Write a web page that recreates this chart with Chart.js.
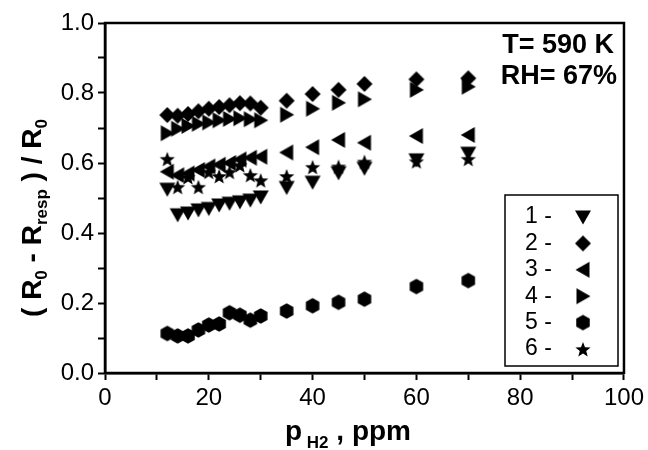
<!DOCTYPE html>
<html>
<head>
<meta charset="utf-8">
<script src="https://cdn.jsdelivr.net/npm/chart.js@4/dist/chart.umd.min.js"></script>
<style>
html,body{margin:0;padding:0;background:#fff;}
#wrap{width:648px;height:450px;position:relative;}
</style>
</head>
<body>
<div id="wrap"><canvas id="c" width="648" height="450"></canvas></div>
<script>
// ---- data ----
const pH2 = [12,14,16,18,20,22,24,26,28,30,35,40,45,50,60,70];
const series1 = [0.525,0.452,0.457,0.466,0.470,0.480,0.485,0.489,0.494,0.503,0.530,0.545,0.572,0.585,0.609,0.628];
const series2 = [0.737,0.735,0.740,0.748,0.755,0.760,0.765,0.771,0.770,0.758,0.778,0.797,0.809,0.826,0.839,0.842];
const series3 = [0.575,0.565,0.570,0.580,0.590,0.595,0.600,0.610,0.615,0.618,0.630,0.645,0.666,0.658,0.677,0.680];
const series4 = [0.685,0.698,0.706,0.712,0.716,0.722,0.726,0.728,0.725,0.722,0.738,0.755,0.772,0.782,0.809,0.818];
const series5 = [0.113,0.106,0.106,0.123,0.137,0.140,0.172,0.165,0.151,0.163,0.177,0.192,0.202,0.211,0.247,0.264];
const series6 = [0.612,0.532,0.560,0.532,0.575,0.563,0.575,0.594,0.566,0.551,0.563,0.589,0.590,0.604,0.605,0.612];
const legendLabels = ['1 -','2 -','3 -','4 -','5 -','6 -'];
const xTicks = [0,20,40,60,80,100];
const yTicks = [0.0,0.2,0.4,0.6,0.8,1.0];
const noteLines = ['T= 590 K','RH= 67%'];

// ---- marker images ----
function marker(kind){
  const s = 20, c = document.createElement('canvas');
  c.width = s; c.height = s;
  const g = c.getContext('2d');
  const cx = s/2, cy = s/2;
  g.fillStyle = '#000';
  g.beginPath();
  if(kind==='down'){ g.moveTo(cx-8,cy-6.5); g.lineTo(cx+8,cy-6.5); g.lineTo(cx,cy+7.5); }
  else if(kind==='diamond'){ g.moveTo(cx,cy-8); g.lineTo(cx+8,cy); g.lineTo(cx,cy+8); g.lineTo(cx-8,cy); }
  else if(kind==='left'){ g.moveTo(cx-7.5,cy); g.lineTo(cx+6.5,cy-8); g.lineTo(cx+6.5,cy+8); }
  else if(kind==='right'){ g.moveTo(cx+7.5,cy); g.lineTo(cx-6.5,cy-8); g.lineTo(cx-6.5,cy+8); }
  else if(kind==='hex'){ for(let i=0;i<6;i++){ const a=Math.PI/6+i*Math.PI/3; const r=7.8; const x=cx+r*Math.cos(a), y=cy+r*Math.sin(a); i?g.lineTo(x,y):g.moveTo(x,y);} }
  else if(kind==='star'){ for(let i=0;i<10;i++){ const a=-Math.PI/2+i*Math.PI/5; const r=i%2?3.4:8; const x=cx+r*Math.cos(a), y=cy+1+r*Math.sin(a); i?g.lineTo(x,y):g.moveTo(x,y);} }
  g.closePath(); g.fill();
  return c;
}
const kinds = ['down','diamond','left','right','hex','star'];
const imgs = kinds.map(marker);
const allSeries = [series1,series2,series3,series4,series5,series6];

const datasets = allSeries.map((ser,i)=>({
  label: legendLabels[i],
  data: pH2.map((x,j)=>({x:x,y:ser[j]})),
  pointStyle: imgs[i],
  pointRadius: 8,
  showLine: false,
  backgroundColor:'#000',
  borderColor:'#000'
}));

const FONT = "'Liberation Sans', Arial, sans-serif";

const decor = {
  id:'decor',
  afterDraw(chart){
    const ctx = chart.ctx, a = chart.chartArea;
    ctx.save();
    // frame
    ctx.strokeStyle='#000'; ctx.lineWidth=2.5;
    ctx.strokeRect(a.left,a.top,a.right-a.left,a.bottom-a.top);
    // note text
    ctx.fillStyle='#000';
    ctx.font = 'bold 27px '+FONT;
    ctx.textAlign='right'; ctx.textBaseline='alphabetic';
    ctx.fillText(noteLines[0], 614, 53);
    ctx.fillText(noteLines[1], 617, 84);
    // legend box
    const bx=505, by=195, bw=113, bh=171;
    ctx.lineWidth=1.5;
    ctx.strokeRect(bx,by,bw,bh);
    ctx.font = '23px '+FONT;
    ctx.textAlign='left'; ctx.textBaseline='middle';
    for(let i=0;i<6;i++){
      const y = 217 + i*26.4;
      ctx.fillText(legendLabels[i], 525, y);
      const im = imgs[i];
      ctx.drawImage(im, 583-im.width/2, y-im.height/2);
    }
    // y title
    ctx.save();
    ctx.translate(32, 218);
    ctx.rotate(-Math.PI/2);
    const big = 'bold 28px '+FONT, small = 'bold 17px '+FONT;
    const parts = [['( R',big,0],['0',small,6],[' - R',big,0],['resp',small,6],[' ) / R',big,0],['0',small,6]];
    let w=0;
    parts.forEach(p=>{ctx.font=p[1]; w+=ctx.measureText(p[0]).width;});
    let x=-w/2;
    ctx.textAlign='left'; ctx.textBaseline='alphabetic';
    parts.forEach(p=>{ctx.font=p[1]; ctx.fillText(p[0],x,p[2]+9); x+=ctx.measureText(p[0]).width;});
    ctx.restore();
    // x title
    const xbig = 'bold 28px '+FONT, xsmall = 'bold 17px '+FONT;
    const xparts = [['p',xbig,0],[' H2',xsmall,8],[' , ppm',xbig,0]];
    let xw=0;
    xparts.forEach(p=>{ctx.font=p[1]; xw+=ctx.measureText(p[0]).width;});
    let xx = 348 - xw/2;
    ctx.textAlign='left'; ctx.textBaseline='alphabetic';
    xparts.forEach(p=>{ctx.font=p[1]; ctx.fillText(p[0],xx,440+p[2]); xx+=ctx.measureText(p[0]).width;});
    ctx.restore();
  }
};

new Chart(document.getElementById('c'), {
  type:'scatter',
  data:{datasets},
  options:{
    responsive:false,
    animation:false,
    devicePixelRatio:1,
    layout:{padding:{top:23,right:21,left:0,bottom:0}},
    plugins:{legend:{display:false},tooltip:{enabled:false}},
    scales:{
      x:{
        type:'linear', min:0, max:100,
        afterFit(s){ s.height = 77; },
        ticks:{stepSize:10, autoSkip:false, maxRotation:0, color:'#000', padding:4,
          font:{family:FONT,size:24},
          callback:(v)=> xTicks.includes(v) ? String(v) : ''},
        grid:{drawOnChartArea:false, drawTicks:true, tickLength:7, tickColor:'#000', tickWidth:2},
        border:{display:true,color:'#000',width:2.5}
      },
      y:{
        type:'linear', min:0, max:1,
        afterFit(s){ s.width = 105; },
        ticks:{stepSize:0.1, autoSkip:false, color:'#000', padding:4,
          font:{family:FONT,size:24},
          callback:(v)=>{ const t = yTicks.find(k=>Math.abs(k-v)<1e-6); return t===undefined ? '' : t.toFixed(1); }},
        grid:{drawOnChartArea:false, drawTicks:true, tickLength:7, tickColor:'#000', tickWidth:2},
        border:{display:true,color:'#000',width:2.5}
      }
    }
  },
  plugins:[decor]
});
</script>
</body>
</html>
